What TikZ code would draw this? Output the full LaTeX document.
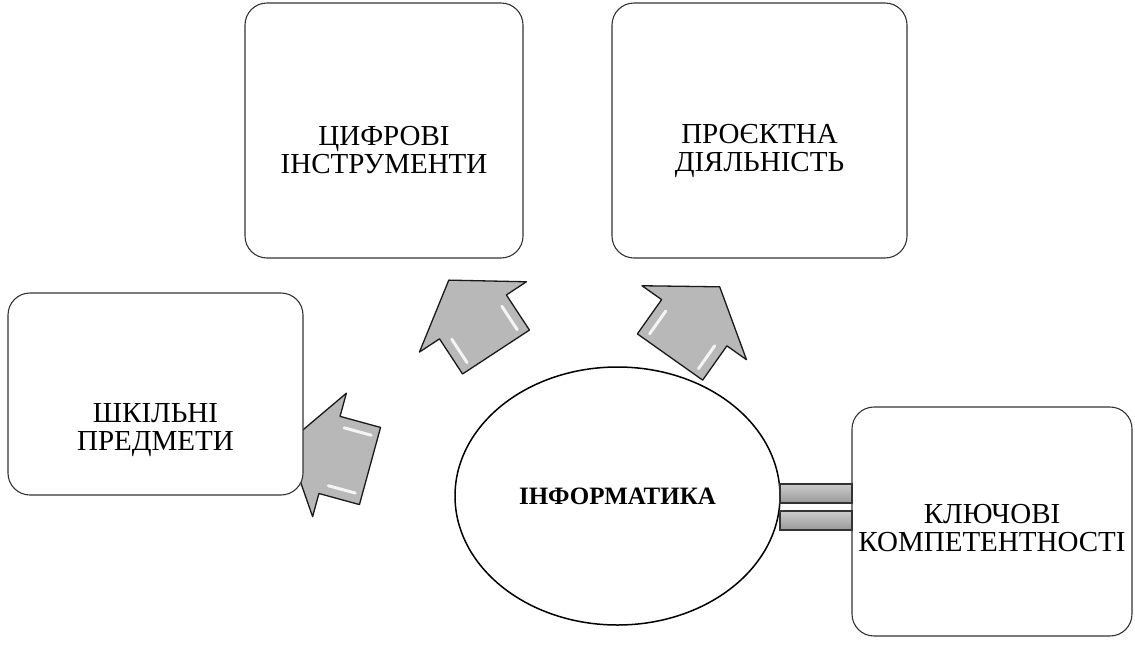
\documentclass[tikz,border=0pt]{standalone}
\usepackage{fontspec}
\setmainfont{Liberation Serif}
\usetikzlibrary{shapes.geometric}

\tikzset{
    x=1pt, y=-1pt,
    topic/.style={draw=black!80, line width=1.1pt, rounded corners=22pt,
        fill=white, inner sep=0pt},
    boxtext/.style={align=center, inner sep=0pt,
        font=\fontsize{29}{28}\selectfont},
    core/.style={ellipse, draw=black, line width=1.5pt, fill=white,
        inner sep=0pt, font=\bfseries\fontsize{25}{25}\selectfont},
    fatarrow/.style={draw=black!90, line width=1.3pt, line join=round,
        fill=black!28},
    shine/.style={white, line width=3pt, line cap=round, opacity=0.85},
    link/.style={draw=black!80, line width=1.2pt, top color=black!20,
        bottom color=black!40, minimum width=72pt, minimum height=19pt,
        inner sep=0pt}
}

% stubby block arrow: #1 = foot of the shaft, #2 = direction
\newcommand{\blockarrow}[2]{%
    \begin{scope}[shift={#1}, rotate=#2]
        \draw[fatarrow] (0,40) -- (42,40) -- (42,64) -- (86,0)
            -- (42,-64) -- (42,-40) -- (0,-40) -- cycle;
        \draw[shine] (7,30) -- (35,30);
        \draw[shine] (7,-30) -- (35,-30);
    \end{scope}}

\begin{document}
\begin{tikzpicture}
\useasboundingbox (0,0) rectangle (1135,670);

% arrows first, the boxes cover their tips
\blockarrow{(496,352)}{123.3}
\blockarrow{(670,357)}{54.7}
\blockarrow{(370,466)}{164.7}

\node[core, minimum width=325pt, minimum height=258pt] (info) at (617.5,496) {ІНФОРМАТИКА};

\node[topic, minimum width=278pt, minimum height=255pt,
    label={[boxtext, yshift=-20pt]center:{ЦИФРОВІ\\ІНСТРУМЕНТИ}}] (tools) at (384,130.5) {};
\node[topic, minimum width=295pt, minimum height=255pt,
    label={[boxtext, yshift=-20pt]center:{ПРОЄКТНА\\ДІЯЛЬНІСТЬ}}] (project) at (759.5,130.5) {};
\node[topic, minimum width=295pt, minimum height=202pt,
    label={[boxtext, yshift=-36pt]center:{ШКІЛЬНІ\\ПРЕДМЕТИ}}] (school) at (155.5,394) {};
\node[topic, minimum width=280pt, minimum height=229pt,
    label={[boxtext, yshift=-7pt]center:{КЛЮЧОВІ\\КОМПЕТЕНТНОСТІ}}] (skills) at (992,521.5) {};

\node[link] (link1) at (816,493.5) {};
\node[link] (link2) at (816,520.5) {};
\end{tikzpicture}
\end{document}
